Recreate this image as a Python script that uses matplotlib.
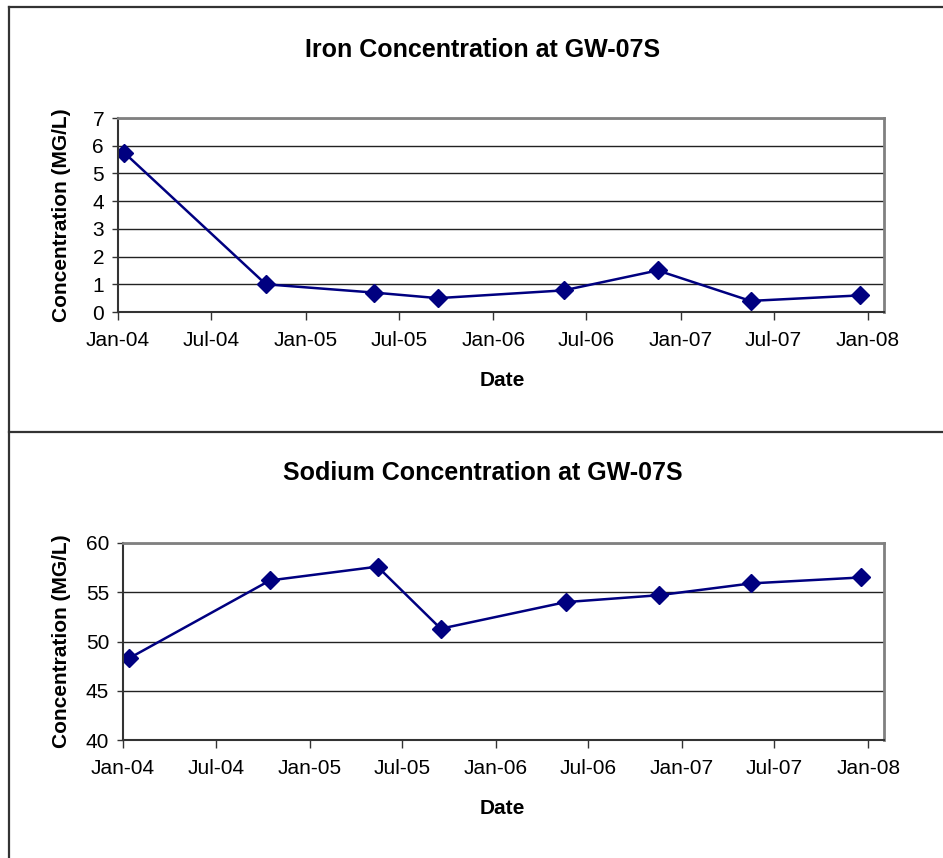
import numpy as np
import pandas as pd
import matplotlib
matplotlib.use("Agg")
import matplotlib.pyplot as plt
import matplotlib.dates as mdates
from matplotlib.lines import Line2D

plt.rcParams['font.family'] = ['Liberation Sans', 'DejaVu Sans']

# sample dates (same for both parameters)
sample_dates = pd.to_datetime(['2004-01-13', '2004-10-15', '2005-05-14', '2005-09-15',
                               '2006-05-18', '2006-11-17', '2007-05-17', '2007-12-17'])
iron = [5.75, 1.0, 0.7, 0.5, 0.78, 1.5, 0.4, 0.6]
sodium = [48.3, 56.2, 57.6, 51.3, 54.0, 54.7, 55.9, 56.5]

charts = [
    ("Iron Concentration at GW-07S", iron, (0, 7), np.arange(0, 8, 1)),
    ("Sodium Concentration at GW-07S", sodium, (40, 60), np.arange(40, 61, 5)),
]

W, H = 943, 858
fig = plt.figure(figsize=(W / 100, H / 100), dpi=100)

# outer frame lines (px coords)
def fx(px):
    return px / W

def fy(py):
    return 1 - py / H

for xs, ys in [([9, 9], [7, H]), ([9, W], [7, 7]), ([9, W], [432, 432])]:
    fig.add_artist(Line2D([fx(v) for v in xs], [fy(v) for v in ys],
                          color='#333333', lw=1.6, transform=fig.transFigure))

# axes boxes in px: left, top, right, bottom
boxes = [(118, 118, 884, 312), (123, 543, 884, 740)]
title_y = [50, 473]
xlabel_y = [380, 808]

for (title, vals, ylim, yticks), (l, t, r, b), ty, xy in zip(charts, boxes, title_y, xlabel_y):
    ax = fig.add_axes([fx(l), fy(b), (r - l) / W, (b - t) / H])
    ax.plot(sample_dates, vals, color='#000080', lw=1.8, marker='D',
            markersize=9, markerfacecolor='#000080', markeredgecolor='#000080')
    ax.set_xlim(pd.Timestamp('2004-01-01'), pd.Timestamp('2008-02-01'))
    ax.set_ylim(*ylim)
    ax.set_yticks(yticks)
    ax.xaxis.set_major_locator(mdates.MonthLocator(bymonth=[1, 7]))
    ax.xaxis.set_major_formatter(mdates.DateFormatter('%b-%y'))
    ax.grid(axis='y', color='#222222', lw=1.0)
    ax.set_axisbelow(True)
    for s in ['top', 'right']:
        ax.spines[s].set_color('#808080')
        ax.spines[s].set_linewidth(2)
    for s in ['left', 'bottom']:
        ax.spines[s].set_color('#333333')
        ax.spines[s].set_linewidth(1.5)
    ax.tick_params(axis='x', direction='out', length=6, width=1, pad=8,
                   labelsize=15, color='#333333')
    ax.tick_params(axis='y', direction='out', length=4, width=1, pad=6,
                   labelsize=15, color='#333333')
    ax.set_ylabel("Concentration (MG/L)", fontsize=15, fontweight='bold')
    ax.yaxis.set_label_coords(fx(71 - l) / ((r - l) / W), 0.5)
    fig.text(fx(483), fy(ty), title, ha='center', va='center',
             fontsize=18, fontweight='bold')
    fig.text(fx(502), fy(xy), "Date", ha='center', va='center',
             fontsize=15, fontweight='bold')

fig.savefig("out.png", dpi=100)
